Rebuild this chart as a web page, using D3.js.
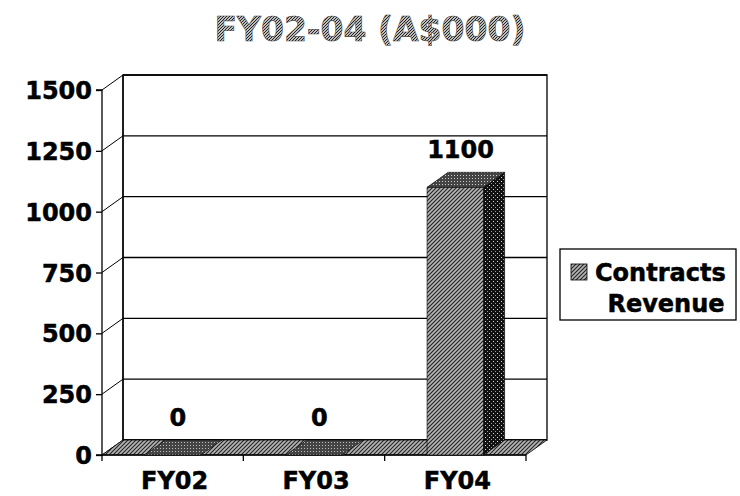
<!DOCTYPE html>
<html><head><meta charset="utf-8">
<script src="https://cdn.jsdelivr.net/npm/d3@7"></script>
<style>html,body{margin:0;padding:0;background:#fff;}svg{display:block;}</style>
</head><body>
<svg id="chart" width="740" height="496"></svg>
<script>
const categories = ["FY02", "FY03", "FY04"];
const values = [0, 0, 1100];
const yTicks = [0, 250, 500, 750, 1000, 1250, 1500];
const titleText = "FY02-04 (A$000)";
const seriesName = ["Contracts", "Revenue"];

const svg = d3.select("#chart");
const FONT = "'DejaVu Sans', Verdana, sans-serif";
const DX = 21, DY = -15;

const defs = svg.append("defs");
const ph = defs.append("pattern").attr("id","hatch").attr("patternUnits","userSpaceOnUse").attr("width",4).attr("height",4);
ph.append("rect").attr("width",4).attr("height",4).attr("fill","#b4b4b4");
ph.append("path").attr("d","M0,4 L4,0 M-1,1 L1,-1 M3,5 L5,3").attr("stroke","#222").attr("stroke-width",1.1);
const ps = defs.append("pattern").attr("id","side").attr("patternUnits","userSpaceOnUse").attr("width",4).attr("height",4);
ps.append("rect").attr("width",4).attr("height",4).attr("fill","#111");
ps.append("rect").attr("x",1).attr("y",1).attr("width",1).attr("height",1).attr("fill","#ddd");
ps.append("rect").attr("x",3).attr("y",3).attr("width",1).attr("height",1).attr("fill","#999");
const pt = defs.append("pattern").attr("id","top").attr("patternUnits","userSpaceOnUse").attr("width",3).attr("height",3);
pt.append("rect").attr("width",3).attr("height",3).attr("fill","#444");
pt.append("rect").attr("x",1).attr("y",1).attr("width",1).attr("height",1).attr("fill","#ccc");
const pc = defs.append("pattern").attr("id","cross").attr("patternUnits","userSpaceOnUse").attr("width",3).attr("height",3);
pc.append("rect").attr("width",3).attr("height",3).attr("fill","#444");
pc.append("rect").attr("x",1).attr("y",1).attr("width",1).attr("height",1).attr("fill","#bbb");
const pT = defs.append("pattern").attr("id","tfill").attr("patternUnits","userSpaceOnUse").attr("width",3).attr("height",3);
pT.append("rect").attr("width",3).attr("height",3).attr("fill","#bdbdbd");
pT.append("path").attr("d","M0,3 L3,0").attr("stroke","#222").attr("stroke-width",1);

const x = d3.scaleBand().domain(categories).range([102, 526]).paddingInner(0.6).paddingOuter(0.3);
const xEdge = d3.scalePoint().domain(d3.range(categories.length + 1)).range([102, 526]);
const y = d3.scaleLinear().domain([0, 1500]).range([455, 90]);

const poly = pts => "M" + pts.map(p => p.join(",")).join("L") + "Z";
const boldText = sel => sel.attr("font-family",FONT).attr("font-weight","bold").attr("font-size",24)
  .attr("fill","#000").attr("stroke","#000").attr("stroke-width",0.5);

const x0 = 102, x1 = 526;
svg.append("path").attr("d", poly([[x0+DX,y(1500)+DY],[x1+DX,y(1500)+DY],[x1+DX,y(0)+DY],[x0+DX,y(0)+DY]]))
  .attr("fill","#fff").attr("stroke","#000").attr("stroke-width",1.3);
yTicks.forEach(t => {
  svg.append("line").attr("x1",x0+DX).attr("x2",x1+DX).attr("y1",y(t)+DY).attr("y2",y(t)+DY).attr("stroke","#000").attr("stroke-width",1.3);
  svg.append("line").attr("x1",x0).attr("x2",x0+DX).attr("y1",y(t)).attr("y2",y(t)+DY).attr("stroke","#000").attr("stroke-width",1);
});
svg.append("line").attr("x1",x0+DX).attr("x2",x0+DX).attr("y1",y(1500)+DY).attr("y2",y(0)+DY).attr("stroke","#000").attr("stroke-width",1.3);

svg.append("path").attr("d", poly([[x0,y(0)],[x1,y(0)],[x1+DX,y(0)+DY],[x0+DX,y(0)+DY]]))
  .attr("fill","url(#hatch)").attr("stroke","#000").attr("stroke-width",0.8);

const yAxis = d3.axisLeft(y).tickValues(yTicks).tickFormat(d3.format("d")).tickSize(6).tickPadding(4);
const gy = svg.append("g").attr("transform",`translate(${x0},0)`).call(yAxis);
gy.select(".domain").attr("stroke","#000").attr("stroke-width",1.3).attr("d",`M-6,${y(1500)}H0V${y(0)}H-6`);
gy.selectAll(".tick line").attr("stroke","#000").attr("stroke-width",1.3);
gy.selectAll(".tick text").call(boldText).attr("dy","0.36em");

const gx = svg.append("g").attr("transform",`translate(0,${y(0)})`);
gx.append("line").attr("x1",x0).attr("x2",x1).attr("stroke","#000").attr("stroke-width",1.3);
gx.selectAll(".xt").data(d3.range(categories.length+1)).enter().append("line")
  .attr("x1",d=>xEdge(d)).attr("x2",d=>xEdge(d)).attr("y1",0).attr("y2",6).attr("stroke","#000").attr("stroke-width",1.3);
gx.selectAll(".xl").data(categories).enter().append("text")
  .attr("x",d=>x(d)+x.bandwidth()/2+2).attr("y",34).attr("text-anchor","middle")
  .call(boldText).text(d=>d);

const bars = svg.append("g");
categories.forEach((c, i) => {
  const v = values[i];
  const bx = x(c), bw = x.bandwidth(), by = y(v), b0 = y(0);
  const g = bars.append("g");
  if (v > 0) {
    g.append("path").attr("d", poly([[bx,by],[bx+bw,by],[bx+bw,b0],[bx,b0]])).attr("fill","url(#hatch)").attr("stroke","#000").attr("stroke-width",0.6);
    g.append("path").attr("d", poly([[bx+bw,by],[bx+bw+DX,by+DY],[bx+bw+DX,b0+DY],[bx+bw,b0]])).attr("fill","url(#side)").attr("stroke","#000").attr("stroke-width",0.6);
  }
  g.append("path").attr("d", poly([[bx,by],[bx+bw,by],[bx+bw+DX,by+DY],[bx+DX,by+DY]])).attr("fill", v>0 ? "url(#top)" : "url(#cross)").attr("stroke","#000").attr("stroke-width",0.6);
  g.append("text").attr("x", bx+bw/2+DX/4).attr("y", by+DY-14).attr("text-anchor","middle")
    .call(boldText).text(v);
});

svg.append("text").attr("x",370).attr("y",41).attr("text-anchor","middle")
  .attr("font-family",FONT).attr("font-weight","bold").attr("font-size",33)
  .attr("fill","url(#tfill)").attr("stroke","#444").attr("stroke-width",0.6).text(titleText);

const lg = svg.append("g");
lg.append("rect").attr("x",560).attr("y",249).attr("width",176).attr("height",71).attr("fill","#fff").attr("stroke","#000").attr("stroke-width",1.3);
lg.append("rect").attr("x",571).attr("y",264).attr("width",16).attr("height",16).attr("fill","url(#hatch)").attr("stroke","#000").attr("stroke-width",0.8);
lg.append("text").attr("x",595).attr("y",281).call(boldText).text(seriesName[0]);
lg.append("text").attr("x",666).attr("y",312).attr("text-anchor","middle").call(boldText).text(seriesName[1]);
</script>
</body></html>
